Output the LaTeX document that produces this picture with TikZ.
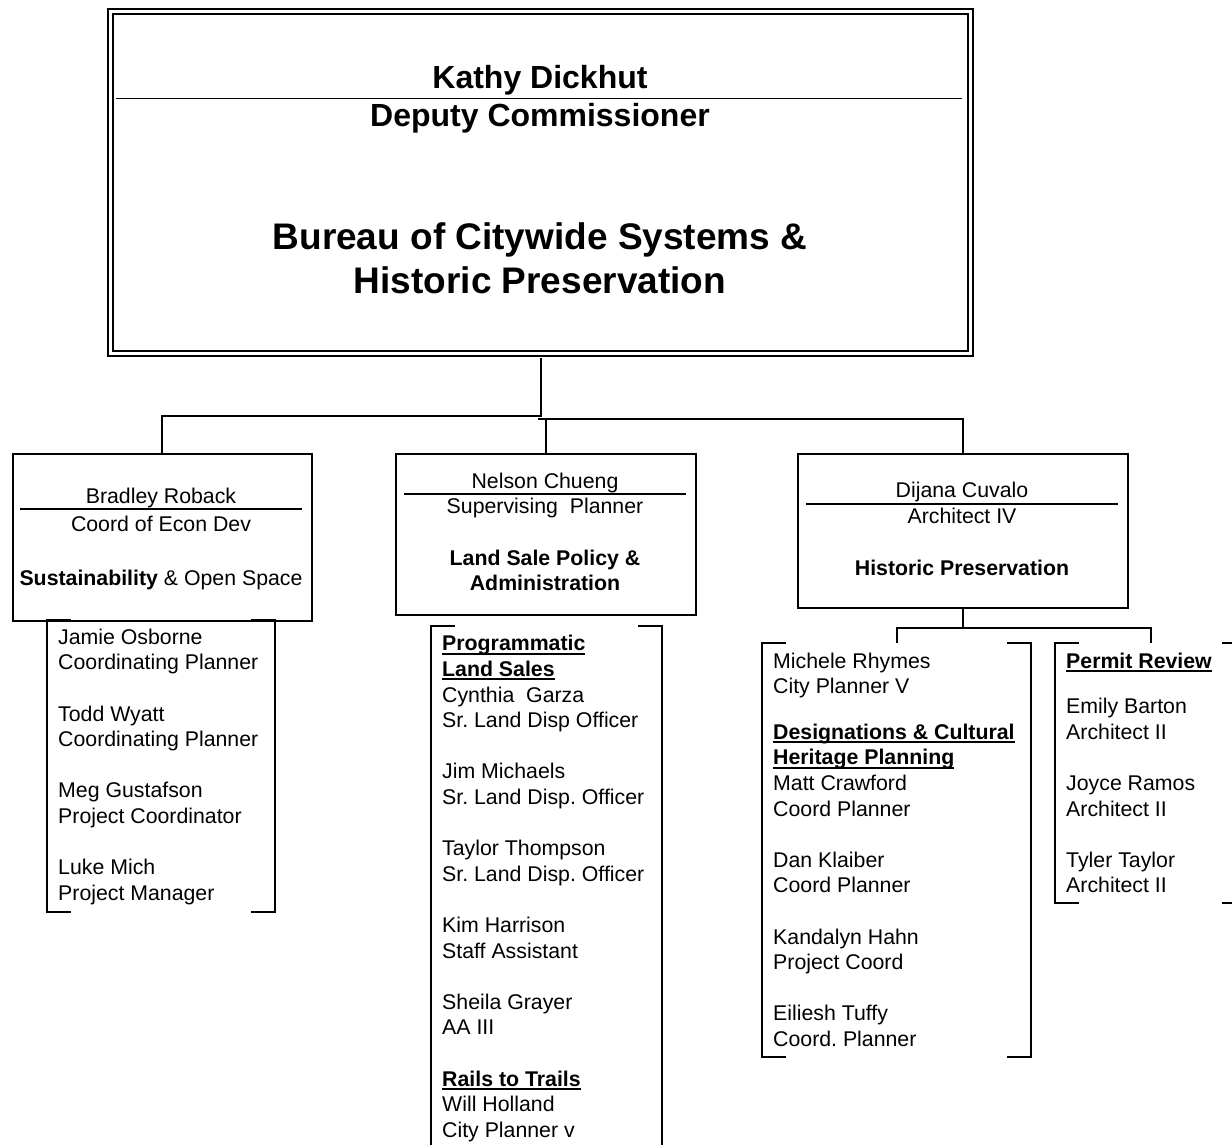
\documentclass[tikz,border=0pt]{standalone}
\usepackage{fontspec}
\setmainfont{Liberation Sans}
\usetikzlibrary{calc}
\frenchspacing

\newsavebox{\ulbox}
\newcommand{\ulhead}[1]{\sbox{\ulbox}{\bfseries #1}\rlap{\rule[-3.7pt]{\wd\ulbox}{2pt}}\usebox{\ulbox}}

\tikzset{
  box/.style={draw, line width=2pt, inner sep=0pt, anchor=north west},
  brk/.style={inner sep=0pt, anchor=north west},
  conn/.style={line width=2pt},
  sepline/.style={line width=1.5pt},
  txt/.style={inner sep=0pt, anchor=base, font=\fontsize{21.3}{25.6}\selectfont},
  list/.style={inner sep=0pt, anchor=north west, align=left, font=\fontsize{21.3}{25.6}\selectfont},
  head/.style={inner sep=0pt, anchor=base, font=\bfseries\fontsize{32}{38}\selectfont},
  title/.style={inner sep=0pt, anchor=base, font=\bfseries\fontsize{37}{44}\selectfont}
}

\begin{document}
\begin{tikzpicture}[x=1pt,y=-1pt]
  \clip (0,0) rectangle (1232,1145);
  % deputy commissioner
  \node[box, double, double distance=2.5pt, minimum width=860, minimum height=342] (dc) at (109.5,10.5) {};
  \node[head] (kathy) at (540,89) {Kathy Dickhut};
  \draw[sepline] (116,98.5) -- (962,98.5);
  \node[head] (deputy) at (540,127) {Deputy Commissioner};
  \node[title] (bureau) at (540,249) {Bureau of Citywide Systems \&};
  \node[title] (bureau2) at (540,293) {Historic Preservation};

  % units
  \node[box, minimum width=298.5, minimum height=167] (econ) at (12,452.5) {};
  \node[box, minimum width=300, minimum height=161] (land) at (395,452.5) {};
  \node[box, minimum width=330, minimum height=154.5] (hist) at (797,452.5) {};

  \node[txt] (brad) at (161,503) {Bradley Roback};
  \draw[sepline] (20,509) -- (302,509);
  \node[txt] (bradt) at (161,531) {Coord of Econ Dev};
  \node[txt] (bradu) at (161,585) {\textbf{Sustainability} \& Open Space};

  \node[txt] (nelson) at (545,488) {Nelson Chueng};
  \draw[sepline] (404,494) -- (686,494);
  \node[txt] (nelsont) at (545,513) {Supervising~~Planner};
  \node[txt, font=\bfseries\fontsize{21.3}{25.6}\selectfont] (nelsonu) at (545,565) {Land Sale Policy \&};
  \node[txt, font=\bfseries\fontsize{21.3}{25.6}\selectfont] (nelsonu2) at (545,590) {Administration};

  \node[txt] (dijana) at (962,497) {Dijana Cuvalo};
  \draw[sepline] (806,504) -- (1118,504);
  \node[txt] (dijanat) at (962,523) {Architect IV};
  \node[txt, font=\bfseries\fontsize{21.3}{25.6}\selectfont] (dijanau) at (962,575) {Historic Preservation};

  % connectors
  \draw[conn] ([yshift=-3.5pt]dc.south) -- (dc.south |- 0,416) coordinate (j1) -| (econ.north);
  \coordinate (j2) at (538,418.5);
  \draw[conn] (j2) -| (hist.north);
  \draw[conn] (land.north) -- (land.north |- j2);

  % staff lists
  \node[brk, minimum width=228, minimum height=292] (econB) at (47,619.5) {};
  \node[brk, minimum width=231, minimum height=540] (landB) at (431,625.5) {};
  \node[brk, minimum width=269, minimum height=414] (desB) at (762,643) {};
  \node[brk, minimum width=191, minimum height=260] (permB) at (1055,643) {};

  \draw[conn] (hist.south) -- ++(0,18.5) coordinate (j3);
  \draw[conn] (desB.north) |- (j3) -| (permB.north);

  \foreach \b in {econB,landB,desB,permB}{
    \draw[conn] ([xshift=24pt]\b.north west) -- (\b.north west) -- (\b.south west) -- ++(24,0);
    \draw[conn] ([xshift=-24pt]\b.north east) -- (\b.north east) -- (\b.south east) -- ++(-24,0);
  }

  \node[list] (econL) at (58,626.1) {\strut Jamie Osborne\\ Coordinating Planner\\[25.6pt]
    Todd Wyatt\\ Coordinating Planner\\[25.6pt]
    Meg Gustafson\\ Project Coordinator\\[25.6pt]
    Luke Mich\\ Project Manager};

  \node[list] (landL) at (442,632.7) {\strut\ulhead{Programmatic}\\ \ulhead{Land Sales}\\
    Cynthia~~Garza\\ Sr. Land Disp Officer\\[25.6pt]
    Jim Michaels\\ Sr. Land Disp. Officer\\[25.6pt]
    Taylor Thompson\\ Sr. Land Disp. Officer\\[25.6pt]
    Kim Harrison\\ Staff Assistant\\[25.6pt]
    Sheila Grayer\\ AA III\\[25.6pt]
    \ulhead{Rails to Trails}\\ Will Holland\\ City Planner v};

  \node[list] (desL) at (773,650.1) {\strut Michele Rhymes\\ City Planner V\\[19.8pt]
    \ulhead{Designations \& Cultural}\\ \ulhead{Heritage Planning}\\
    Matt Crawford\\ Coord Planner\\[25.6pt]
    Dan Klaiber\\ Coord Planner\\[25.6pt]
    Kandalyn Hahn\\ Project Coord\\[25.6pt]
    Eiliesh Tuffy\\ Coord. Planner};

  \node[list] (permL) at (1066,650.1) {\strut\ulhead{Permit Review}\\[19.8pt]
    Emily Barton\\ Architect II\\[25.6pt]
    Joyce Ramos\\ Architect II\\[25.6pt]
    Tyler Taylor\\ Architect II};
\end{tikzpicture}
\end{document}
